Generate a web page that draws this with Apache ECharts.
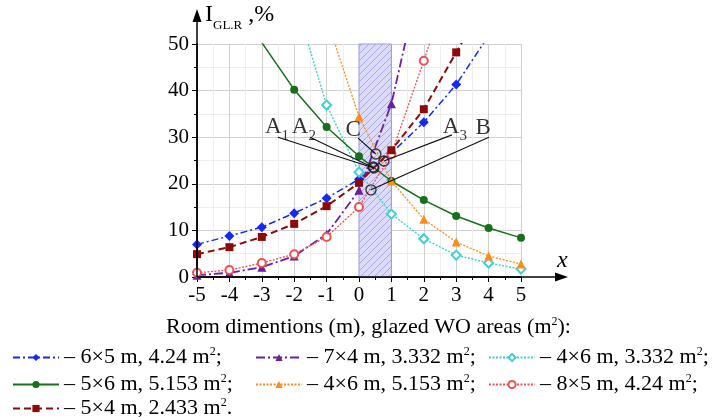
<!DOCTYPE html>
<html><head><meta charset="utf-8">
<script src="https://cdn.jsdelivr.net/npm/echarts@6/dist/echarts.min.js"></script>
<style>html,body{margin:0;padding:0;background:#fff}#c{width:725px;height:417px}</style>
</head><body><div id="c"></div>
<script>
// ---- data ----
const xValues = [-5, -4, -3, -2, -1, 0, 1, 2, 3, 4, 5];
const s6x5  = [7.0, 8.8, 10.7, 13.7, 16.9, 21.0, 26.6, 33.2, 41.3, 51.8, null];
const s7x4  = [0.4, 0.9, 2.1, 4.5, 9.2, 18.6, 37.2, 67.7, null, null, null];
const s4x6a = [null, null, null, 60.0, 36.9, 22.5, 13.5, 8.2, 4.7, 3.0, 1.7];
const s5x6  = [null, 62.0, 50.3, 40.2, 32.2, 25.9, 20.6, 16.5, 13.1, 10.5, 8.4];
const s4x6b = [null, null, null, null, 55.5, 34.4, 20.6, 12.4, 7.5, 4.5, 2.8];
const s8x5  = [0.9, 1.5, 3.0, 4.9, 8.6, 15.0, 26.4, 46.4, 67.6, null, null];
const s5x4  = [4.9, 6.4, 8.6, 11.4, 15.2, 20.2, 27.2, 36.0, 48.2, 60.2, null];
const seriesNames = ['6×5 m, 4.24', '7×4 m, 3.332', '4×6 m, 3.332', '5×6 m, 5.153', '4×6 m, 5.153', '8×5 m, 4.24', '5×4 m, 2.433'];
const legendEnds = [';', ';', ';', ';', ';', ';', '.'];
const bandRange = [0, 1];
const annotCircles = [[0.52, 26.4], [0.77, 24.9], [0.46, 23.4], [0.44, 23.6], [0.37, 18.7]];
const annotLeaders = [
  [[-2.5, 30.0], [0.46, 23.4]],
  [[-1.51, 30.0], [0.46, 23.4]],
  [[-0.03, 29.8], [0.52, 26.4]],
  [[2.87, 30.5], [0.77, 24.9]],
  [[4.01, 30.0], [0.37, 18.7]]
];
const annotLabels = [
  ['A', '1', -2.53, 31.6],
  ['A', '2', -1.70, 31.6],
  ['C', '', -0.18, 31.0],
  ['A', '3', 2.96, 31.6],
  ['B', '', 3.83, 31.4]
];
const axisTitle = ['I', 'GL.R', ' ,%'];
const xName = 'x';
const bottomTitle = ['Room dimentions (m), glazed WO areas (m', '2', '):'];

// ---- styles ----
const FONT = 'Liberation Serif';
const seriesStyles = [
  {color: '#1428ff', symbol: 'diamond', size: 10, type: [7, 3, 2, 3], width: 1.5},
  {color: '#6a1fa0', symbol: 'triangle', size: 9, type: [9, 3, 2, 3], width: 1.8},
  {color: '#40d0d0', symbol: 'emptyDiamond', size: 9, type: [2, 1.5], width: 1.4},
  {color: '#17701a', symbol: 'circle', size: 8, type: 'solid', width: 1.5},
  {color: '#ff8c1a', symbol: 'triangle', size: 9, type: [2, 1.5], width: 1.3},
  {color: '#f05050', symbol: 'emptyCircle', size: 8, type: [2, 1.5], width: 1.3},
  {color: '#8b0a0a', symbol: 'rect', size: 8, type: [7, 4], width: 2}
];
const seriesValues = [s6x5, s7x4, s4x6a, s5x6, s4x6b, s8x5, s5x4];
const legendPos = [[12, 346], [255, 346], [488, 346], [12, 373], [255, 373], [488, 373], [12, 397]];

// hatch pattern for band
const pc = document.createElement('canvas');
pc.width = 7; pc.height = 7;
const g = pc.getContext('2d');
g.fillStyle = '#dcdcfa'; g.fillRect(0, 0, 7, 7);
g.strokeStyle = '#a8a8e4'; g.lineWidth = 1;
g.beginPath(); g.moveTo(-1, 8); g.lineTo(8, -1); g.stroke();
g.beginPath(); g.moveTo(-1, 1); g.lineTo(1, -1); g.stroke();
g.beginPath(); g.moveTo(6, 8); g.lineTo(8, 6); g.stroke();

const richMain = {
  a: {fontFamily: FONT, fontSize: 22, fontWeight: 'normal', color: '#000', lineHeight: 23},
  s: {fontFamily: FONT, fontSize: 12, fontWeight: 'normal', color: '#000', lineHeight: 12, verticalAlign: 'top'}
};

const chart = echarts.init(document.getElementById('c'));
const series = [];
series.push({
  name: '_band', type: 'line', data: [], z: 1, silent: true,
  markArea: {
    silent: true,
    itemStyle: {color: {image: pc, repeat: 'repeat'}, borderColor: '#9a9ae0', borderWidth: 1, opacity: 1},
    label: {show: false},
    data: [[{xAxis: bandRange[0], yAxis: 0}, {xAxis: bandRange[1], yAxis: 50}]]
  }
});
seriesValues.forEach((vals, i) => {
  const st = seriesStyles[i];
  series.push({
    name: seriesNames[i], type: 'line', z: 3,
    data: xValues.map((x, k) => [x, vals[k]]),
    symbol: st.symbol, symbolSize: st.size, showSymbol: true, clip: true,
    itemStyle: {color: st.color, borderWidth: st.symbol.startsWith('empty') ? 1.1 : 0},
    lineStyle: {color: st.color, width: st.width, type: st.type},
    emphasis: {disabled: true}
  });
});
annotLeaders.forEach((seg, i) => {
  series.push({
    name: '_lead' + i, type: 'line', z: 5, data: seg, symbol: 'none', silent: true,
    lineStyle: {color: '#111', width: 1.1}, emphasis: {disabled: true}
  });
});
series.push({
  name: '_circ', type: 'scatter', z: 6, data: annotCircles, symbol: 'circle', symbolSize: 10, silent: true,
  itemStyle: {color: 'rgba(0,0,0,0)', borderColor: '#111', borderWidth: 1.4}
});
series.push({
  name: '_lab', type: 'scatter', z: 6, symbolSize: 1, silent: true,
  itemStyle: {color: 'rgba(0,0,0,0)'},
  data: annotLabels.map(l => ({
    value: [l[2], l[3]],
    label: {show: true, position: 'inside',
      formatter: l[1] ? '{a|' + l[0] + '}{b|' + l[1] + '}' : '{a|' + l[0] + '}',
      rich: {
        a: {fontFamily: FONT, fontSize: 23, color: '#000', verticalAlign: 'bottom', padding: [0, 0, 5, 0]},
        b: {fontFamily: FONT, fontSize: 15, color: '#000', verticalAlign: 'bottom'}
      }}
  }))
});

const legends = seriesNames.map((n, i) => ({
  data: [n], left: legendPos[i][0], top: legendPos[i][1], padding: 0,
  itemWidth: 46, itemHeight: 9, selectedMode: false,
  formatter: name => '{a|– ' + name + ' m}{s|2}{a|' + legendEnds[i] + '}',
  textStyle: {fontFamily: FONT, fontSize: 22, color: '#000', rich: richMain}
}));

chart.setOption({
  animation: false,
  backgroundColor: '#fff',
  textStyle: {fontFamily: FONT},
  title: {
    text: '{a|' + bottomTitle[0] + '}{s|' + bottomTitle[1] + '}{a|' + bottomTitle[2] + '}',
    left: 166, top: 316, padding: 0,
    textStyle: {fontWeight: 'normal', rich: richMain}
  },
  legend: legends,
  grid: {left: 197, right: 204, top: 44, bottom: 140, containLabel: false},
  xAxis: {
    type: 'value', min: -5, max: 5, interval: 1,
    name: xName, nameLocation: 'end', nameGap: 36,
    nameTextStyle: {fontFamily: FONT, fontSize: 24, fontStyle: 'italic', color: '#000', verticalAlign: 'bottom', padding: [0, 0, 4, 0]},
    axisLine: {show: true, onZero: false, lineStyle: {color: '#000', width: 1.5}},
    axisTick: {show: true, length: 5, lineStyle: {color: '#000'}},
    minorTick: {show: true, splitNumber: 2, length: 3, lineStyle: {color: '#000'}},
    axisLabel: {fontFamily: FONT, fontSize: 21, color: '#000', margin: 8},
    splitLine: {show: true, lineStyle: {color: '#d0d0d0', width: 1}},
    minorSplitLine: {show: true, lineStyle: {color: '#eeeeee', width: 1}}
  },
  yAxis: {
    type: 'value', min: 0, max: 50, interval: 10,
    name: '{a|' + axisTitle[0] + '}{b|' + axisTitle[1] + '}{a|' + axisTitle[2] + '}',
    nameLocation: 'end', nameGap: 12,
    nameTextStyle: {align: 'left', padding: [0, 0, 0, 8],
      rich: {
        a: {fontFamily: FONT, fontSize: 24, color: '#000', verticalAlign: 'bottom', padding: [0, 0, 5, 0]},
        b: {fontFamily: FONT, fontSize: 13, color: '#000', verticalAlign: 'bottom'}
      }},
    axisLine: {show: true, onZero: false, lineStyle: {color: '#000', width: 1.5}},
    axisTick: {show: true, length: 5, lineStyle: {color: '#000'}},
    minorTick: {show: true, splitNumber: 2, length: 3, lineStyle: {color: '#000'}},
    axisLabel: {fontFamily: FONT, fontSize: 21, color: '#000', margin: 8},
    splitLine: {show: true, lineStyle: {color: '#d0d0d0', width: 1}},
    minorSplitLine: {show: true, lineStyle: {color: '#eeeeee', width: 1}}
  },
  series: series
});

// axis lines with arrow heads, positioned through the chart's own scales
const o = chart.convertToPixel({gridIndex: 0}, [-5, 0]);
const xe = chart.convertToPixel({gridIndex: 0}, [5, 0]);
const ye = chart.convertToPixel({gridIndex: 0}, [-5, 50]);
const xTip = xe[0] + 47, yTip = ye[1] - 35;
chart.setOption({
  graphic: [
    {type: 'line', z: 100, shape: {x1: o[0], y1: o[1], x2: xTip - 10, y2: o[1]}, style: {stroke: '#000', lineWidth: 1.5}},
    {type: 'polygon', z: 100, shape: {points: [[xTip, o[1]], [xTip - 13, o[1] - 4.5], [xTip - 13, o[1] + 4.5]]}, style: {fill: '#000'}},
    {type: 'line', z: 100, shape: {x1: o[0], y1: o[1], x2: o[0], y2: yTip + 10}, style: {stroke: '#000', lineWidth: 1.5}},
    {type: 'polygon', z: 100, shape: {points: [[o[0], yTip], [o[0] - 4.5, yTip + 13], [o[0] + 4.5, yTip + 13]]}, style: {fill: '#000'}}
  ]
});
</script>
</body></html>
